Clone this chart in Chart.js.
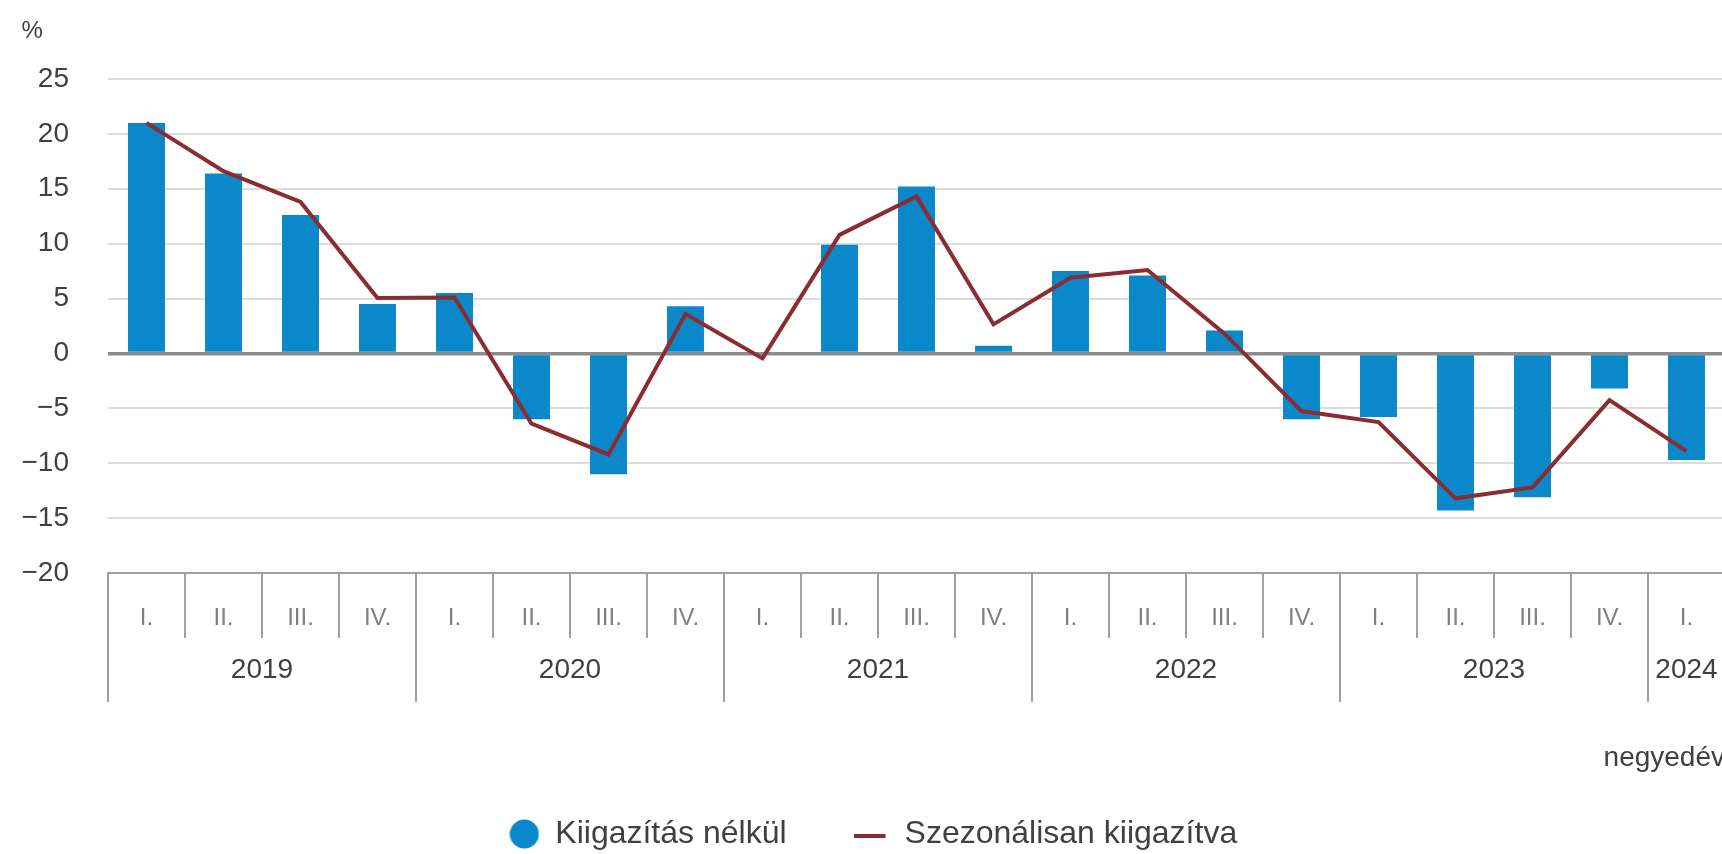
<!DOCTYPE html>
<html>
<head>
<meta charset="utf-8">
<script src="https://cdn.jsdelivr.net/npm/chart.js@4"></script>
<style>
  html, body { margin: 0; padding: 0; background: #fff; overflow: hidden; }
  #wrap { width: 1745px; height: 854px; }
</style>
</head>
<body>
<div id="wrap"><canvas id="chart" width="1745" height="854"></canvas></div>
<script>
// quarter labels (2019 I. - 2024 I.)
const quarters = [
    'I.', 'II.', 'III.', 'IV.',
    'I.', 'II.', 'III.', 'IV.',
    'I.', 'II.', 'III.', 'IV.',
    'I.', 'II.', 'III.', 'IV.',
    'I.', 'II.', 'III.', 'IV.',
    'I.'
];
const years = ['2019', '2020', '2021', '2022', '2023', '2024'];
const quartersPerYear = [4, 4, 4, 4, 4, 1];

// Kiigazítás nélkül (bars), %
const unadjusted = [
    21.0, 16.4, 12.6, 4.5,
    5.5, -6.0, -11.0, 4.3,
    0.0, 9.9, 15.2, 0.7,
    7.5, 7.1, 2.1, -6.0,
    -5.8, -14.3, -13.1, -3.2,
    -9.7
];
// Szezonálisan kiigazítva (line), %
const seasonal = [
    21.0, 16.6, 13.8, 5.05,
    5.1, -6.4, -9.2, 3.6,
    -0.45, 10.8, 14.3, 2.65,
    6.9, 7.6, 1.8, -5.25,
    -6.25, -13.2, -12.2, -4.25,
    -8.9
];

const yTicks = { min: -20, max: 25, step: 5 };

const BAR_COLOR = '#0a88c9';
const LINE_COLOR = '#8a2d31';
const AXIS_COLOR = '#a0a0a0';
const TEXT_COLOR = '#404040';
const FONT = "'Liberation Sans', Arial, sans-serif";

// legend markers
function circleMarker() {
    const c = document.createElement('canvas');
    c.width = 30; c.height = 30;
    const g = c.getContext('2d');
    g.fillStyle = BAR_COLOR;
    g.beginPath(); g.arc(15, 15, 14.5, 0, Math.PI * 2); g.fill();
    return c;
}
function lineMarker() {
    const c = document.createElement('canvas');
    c.width = 40; c.height = 12;
    const g = c.getContext('2d');
    g.fillStyle = LINE_COLOR;
    g.fillRect(0, 6, 32, 4);
    return c;
}

// quarter separators, year separators + year labels, axis unit
const periodAxis = {
    id: 'periodAxis',
    afterDraw(chart) {
        const x = chart.scales.x;
        const g = chart.ctx;
        const top = x.top;
        g.save();
        g.strokeStyle = AXIS_COLOR;
        g.lineWidth = 2;
        // quarter separators
        for (let i = 0; i <= quarters.length; i++) {
            const px = Math.round(x.getPixelForValue(i - 0.5));
            g.beginPath(); g.moveTo(px, top); g.lineTo(px, top + 65); g.stroke();
        }
        // year separators and labels
        g.fillStyle = TEXT_COLOR;
        g.font = '28px ' + FONT;
        g.textAlign = 'center';
        g.textBaseline = 'middle';
        let start = 0;
        years.forEach((y, k) => {
            const n = quartersPerYear[k];
            const left = Math.round(x.getPixelForValue(start - 0.5));
            g.beginPath(); g.moveTo(left, top); g.lineTo(left, top + 129); g.stroke();
            g.fillText(y, x.getPixelForValue(start + n / 2 - 0.5), top + 97);
            start += n;
        });
        const end = Math.round(x.getPixelForValue(start - 0.5));
        g.beginPath(); g.moveTo(end, top); g.lineTo(end, top + 129); g.stroke();
        // unit
        g.textAlign = 'right';
        g.fillText('negyedév', x.right, top + 185);
        g.restore();
    }
};

const ctx = document.getElementById('chart').getContext('2d');
new Chart(ctx, {
    type: 'bar',
    data: {
        labels: quarters,
        datasets: [{
            type: 'bar',
            label: 'Kiigazítás nélkül',
            data: unadjusted,
            backgroundColor: BAR_COLOR,
            borderWidth: 0,
            barPercentage: 0.48,
            categoryPercentage: 1,
            pointStyle: circleMarker(),
            order: 1
        }, {
            type: 'line',
            label: 'Szezonálisan kiigazítva',
            data: seasonal,
            borderColor: LINE_COLOR,
            backgroundColor: LINE_COLOR,
            borderWidth: 4,
            tension: 0,
            pointRadius: 0,
            pointHoverRadius: 0,
            pointStyle: lineMarker(),
            order: 0
        }]
    },
    options: {
        responsive: false,
        animation: false,
        layout: { padding: { left: 21.5, right: 20, top: 0, bottom: -6 } },
        scales: {
            x: {
                offset: true,
                grid: { display: false, drawTicks: false },
                border: { display: true, color: AXIS_COLOR, width: 2 },
                ticks: {
                    autoSkip: false,
                    maxRotation: 0,
                    padding: 31,
                    color: '#7f7f7f',
                    font: { family: FONT, size: 24 }
                },
                afterFit: (scale) => { scale.height = 173; }
            },
            y: {
                min: yTicks.min,
                max: yTicks.max,
                ticks: {
                    stepSize: yTicks.step,
                    padding: 39,
                    color: TEXT_COLOR,
                    font: { family: FONT, size: 28 },
                    callback: (v) => v < 0 ? '\u2212' + Math.abs(v) : String(v)
                },
                grid: {
                    drawTicks: false,
                    color: (c) => {
                        const v = c.tick && c.tick.value;
                        if (v === 0) return '#8c8c8c';
                        if (v === yTicks.min) return 'rgba(0,0,0,0)';
                        return '#dcdcdc';
                    },
                    lineWidth: (c) => (c.tick && c.tick.value === 0) ? 3.5 : 2
                },
                border: { display: false },
                afterFit: (scale) => { scale.width = 86.5; }
            }
        },
        plugins: {
            title: {
                display: true,
                text: '%',
                align: 'start',
                color: TEXT_COLOR,
                font: { family: FONT, size: 24, weight: 'normal' },
                padding: { top: 16.6, bottom: 33.6 }
            },
            legend: {
                position: 'bottom',
                labels: {
                    usePointStyle: true,
                    boxWidth: 30,
                    boxHeight: 30,
                    padding: 72,
                    color: TEXT_COLOR,
                    font: { family: FONT, size: 32 },
                    sort: (a, b) => a.datasetIndex - b.datasetIndex
                }
            },
            tooltip: { enabled: false }
        }
    },
    plugins: [periodAxis]
});
</script>
</body>
</html>
